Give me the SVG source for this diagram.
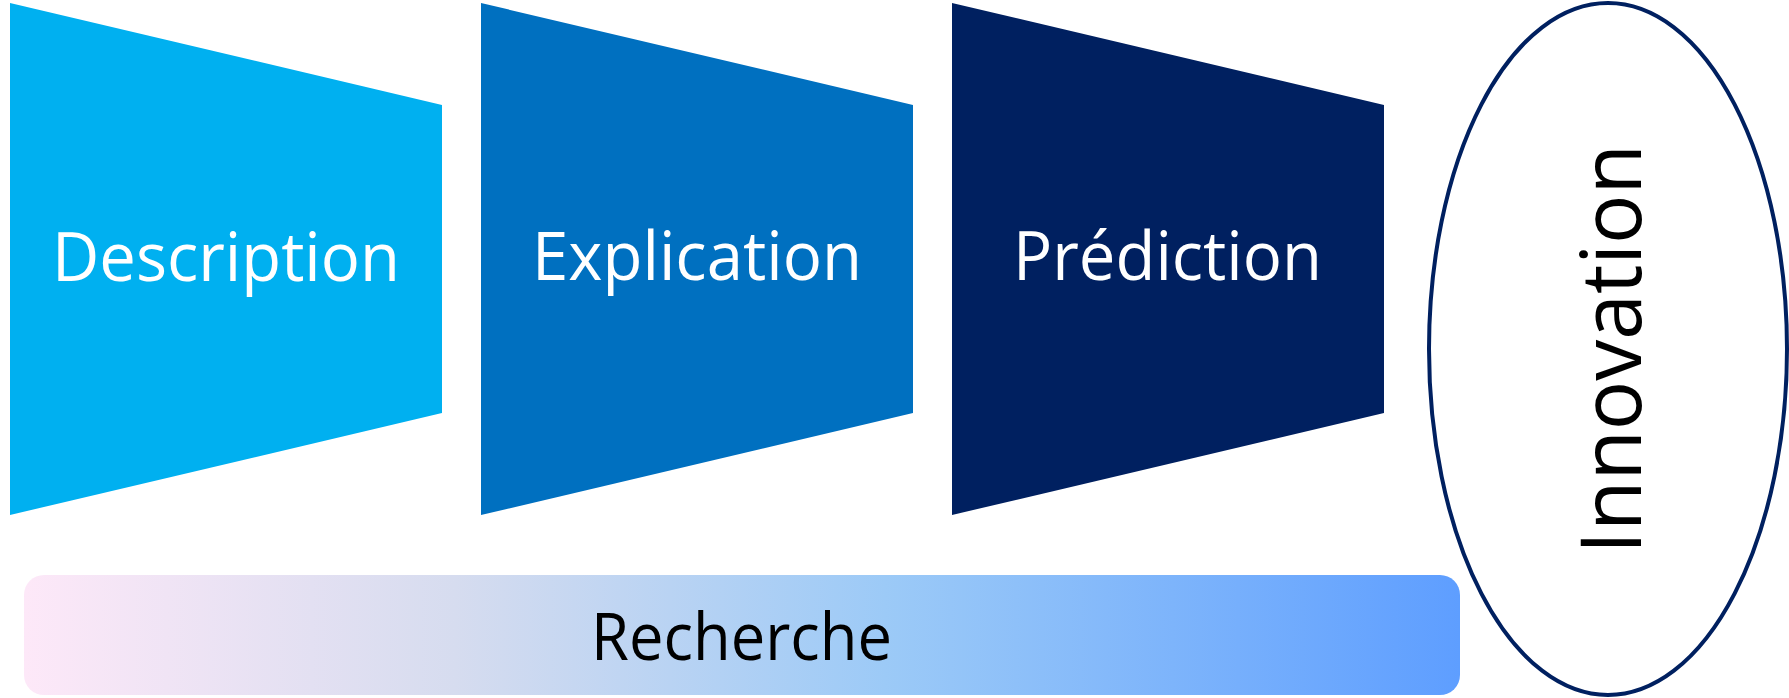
<svg xmlns="http://www.w3.org/2000/svg" width="1789" height="698" viewBox="0 0 1789 698">
  <defs>
    <linearGradient id="barGrad" x1="0" y1="0" x2="1" y2="0">
      <stop offset="0" stop-color="#fde8f8"/>
      <stop offset="0.3" stop-color="#d6dcef"/>
      <stop offset="0.6" stop-color="#9ccaf7"/>
      <stop offset="1" stop-color="#5e9eff"/>
    </linearGradient>
  </defs>
  <style>
    .lbl { font-family: "Open Sans", "Noto Sans", "Liberation Sans", sans-serif; text-anchor: middle; }
    .white { fill: #ffffff; font-size: 67px; }
    .black { fill: #000000; }
  </style>
  <rect width="1789" height="698" fill="#ffffff"/>
  <g id="description">
    <polygon points="10,3 442,105 442,413 10,515" fill="#00b0f0"/>
    <text class="lbl white" x="226" y="281" textLength="348" lengthAdjust="spacingAndGlyphs">Description</text>
  </g>
  <g id="explication">
    <polygon points="481,3 913,105 913,413 481,515" fill="#0070c0"/>
    <text class="lbl white" x="697" y="280" textLength="330" lengthAdjust="spacingAndGlyphs">Explication</text>
  </g>
  <g id="prediction">
    <polygon points="952,3 1384,105 1384,413 952,515" fill="#002060"/>
    <text class="lbl white" x="1167.5" y="280" textLength="309" lengthAdjust="spacingAndGlyphs">Prédiction</text>
  </g>
  <g id="recherche">
    <rect x="24" y="575" width="1436" height="120" rx="20" ry="20" fill="url(#barGrad)"/>
    <text class="lbl black" x="741.5" y="660" font-size="66" textLength="301" lengthAdjust="spacingAndGlyphs">Recherche</text>
  </g>
  <g id="innovation">
    <ellipse cx="1608" cy="349" rx="179" ry="346" fill="#ffffff" stroke="#002060" stroke-width="4"/>
    <text class="lbl black" transform="translate(1641,349) rotate(-90)" x="0" y="0" font-size="84" textLength="410" lengthAdjust="spacingAndGlyphs">Innovation</text>
  </g>
  <g id="connectors"/>
</svg>
